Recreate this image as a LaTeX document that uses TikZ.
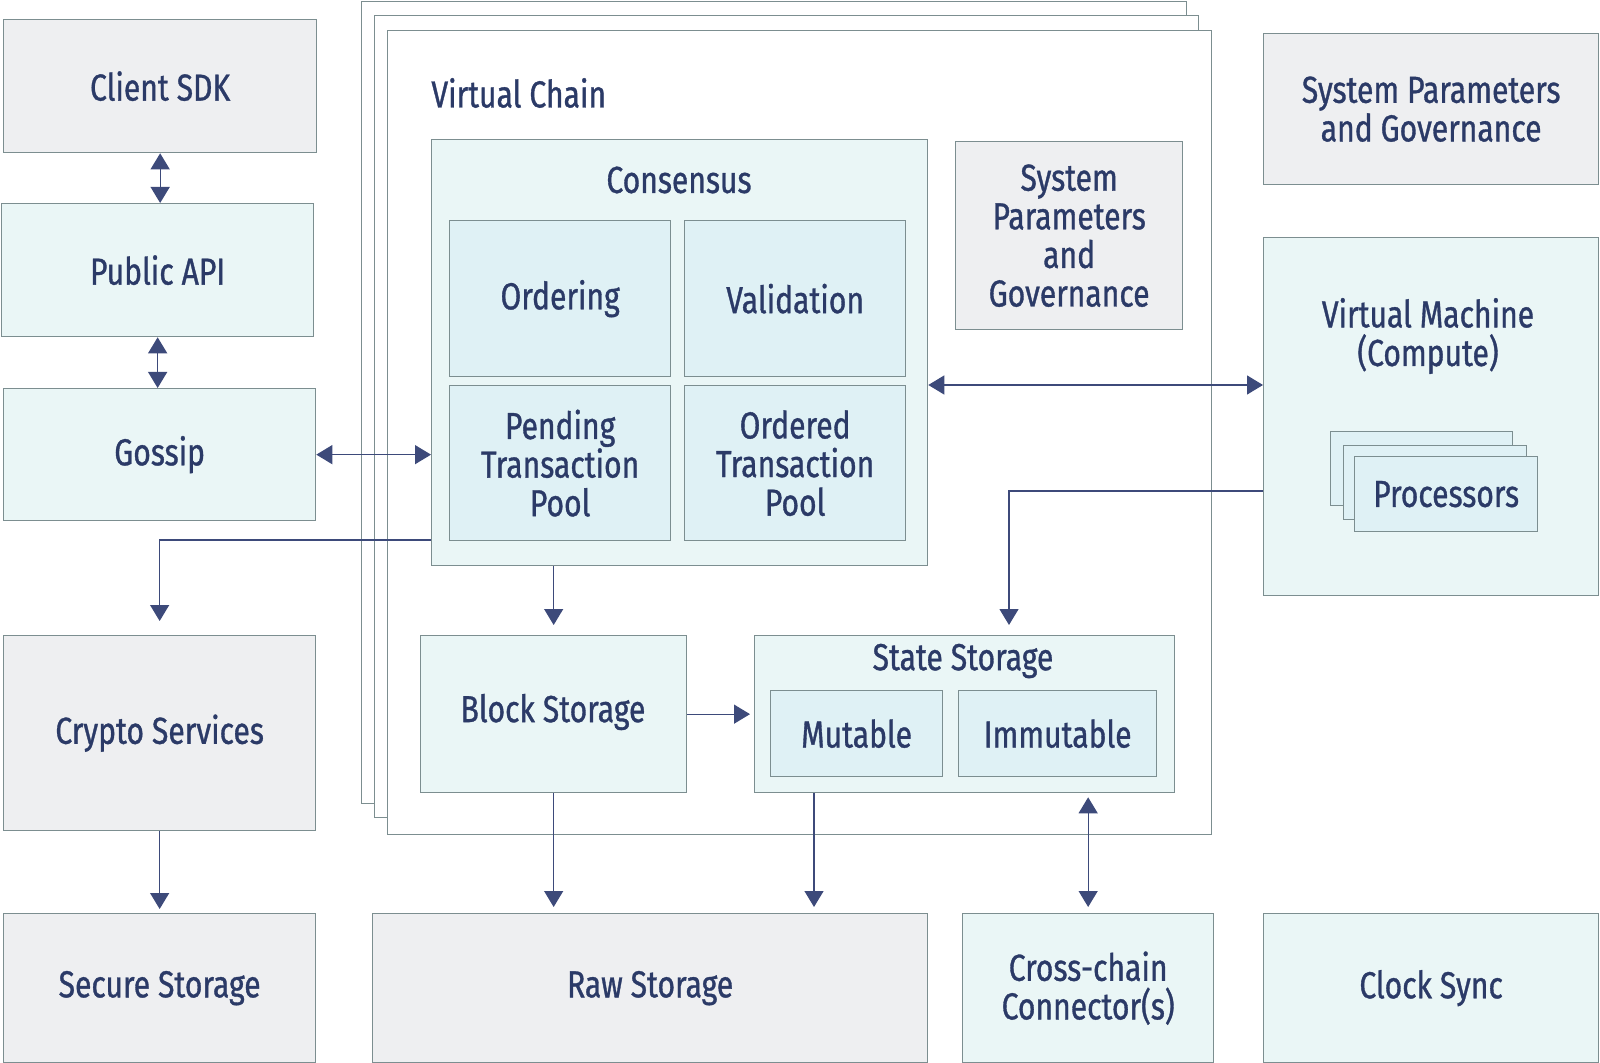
\documentclass[tikz,border=0pt]{standalone}
\usepackage{fontspec}
\setmainfont[FakeStretch=0.80,FakeBold=0.9]{Fira Sans}
\usetikzlibrary{arrows.meta}
\definecolor{txt}{HTML}{2B3A67}
\definecolor{edge}{HTML}{7C8E90}
\definecolor{greyfill}{HTML}{EEEFF1}
\definecolor{tealfill}{HTML}{EAF6F6}
\definecolor{innerfill}{HTML}{DFF1F5}
\definecolor{arr}{HTML}{3D4A7A}
\newcommand{\boxat}[7]{\node[#1, minimum width={(#4-#2)*0.5pt}, minimum height={(#5-#3)*0.5pt}, anchor=north west] (#6) at (#2,#3) {#7};}
\begin{document}
\begin{tikzpicture}[x=0.5pt,y=-0.5pt,
  every node/.style={text=txt, font=\fontsize{18.8}{19.3}\selectfont, align=center, inner sep=0pt},
  base/.style={draw=edge, line width=0.65pt},
  grey/.style={base, fill=greyfill},
  teal/.style={base, fill=tealfill},
  inner/.style={base, fill=innerfill},
  frame/.style={base, fill=white},
  con/.style={draw=arr, line width=0.65pt},
  tip/.style={-{Triangle[width=9.5pt,length=8pt]}},
  tips/.style={{Triangle[width=9.5pt,length=8pt]}-{Triangle[width=9.5pt,length=8pt]}}]
\useasboundingbox (0,0) rectangle (1600,1063);
% left column
\boxat{grey}{3}{19}{316}{152}{sdk}{Client SDK}
\boxat{teal}{1}{203}{313}{336}{api}{Public API}
\boxat{teal}{3}{388}{315}{520}{gossip}{Gossip}
\boxat{grey}{3}{635}{315}{830}{crypto}{Crypto Services}
\boxat{grey}{3}{913}{315}{1062}{secure}{Secure Storage}
% virtual chain frames
\boxat{frame}{361}{1}{1186}{803}{f3}{}
\boxat{frame}{374}{15}{1198}{817}{f2}{}
\boxat{frame}{387}{30}{1211}{834}{f1}{}
\node[anchor=west] (vclabel) at (431,93) {Virtual Chain};
% consensus
\boxat{teal}{431}{139}{927}{565}{consensus}{}
\node (conslabel) at (679,180) {Consensus};
\boxat{inner}{449}{220}{670}{376}{ordering}{Ordering}
\boxat{inner}{684}{220}{905}{376}{validation}{Validation}
\boxat{inner}{449}{385}{670}{540}{pending}{Pending\\Transaction\\Pool}
\boxat{inner}{684}{385}{905}{540}{ordered}{Ordered\\Transaction\\Pool}
\boxat{grey}{955}{141}{1182}{329}{sysin}{System\\Parameters\\and\\Governance}
% storage
\boxat{teal}{420}{635}{686}{792}{block}{}
\node (blocklabel) at (553,712) {Block Storage};
\boxat{teal}{754}{635}{1174}{792}{state}{}
\node (statelabel) at (963,661) {State Storage};
\boxat{inner}{770}{690}{942}{776}{mutable}{Mutable}
\boxat{inner}{958}{690}{1156}{776}{immutable}{Immutable}
% right column
\boxat{grey}{1263}{33}{1598}{184}{sysout}{System Parameters\\and Governance}
\boxat{teal}{1263}{237}{1598}{595}{vm}{}
\node (vmlabel) at (1428,336) {Virtual Machine\\(Compute)};
\boxat{inner}{1330}{431}{1512}{505}{p3}{}
\boxat{inner}{1343}{445}{1526}{519}{p2}{}
\boxat{inner}{1354}{456}{1537}{531}{p1}{Processors}
% bottom row
\boxat{grey}{372}{913}{927}{1062}{raw}{Raw Storage}
\boxat{teal}{962}{913}{1213}{1062}{cross}{Cross-chain\\Connector(s)}
\boxat{teal}{1263}{913}{1598}{1062}{clock}{Clock Sync}
% helper coordinates
\coordinate (yvm) at (0,385);
\coordinate (ycr) at (0,540);
\coordinate (yst) at (0,491);
\coordinate (xst) at (1009,0);
\coordinate (xraw) at (814,0);
% connectors
\draw[con,tips] (sdk.south) -- (api.north -| sdk.south);
\draw[con,tips] (api.south) -- (gossip.north -| api.south);
\draw[con,tips] (gossip.east) -- (gossip.east -| consensus.west);
\draw[con,tips] (consensus.east |- yvm) -- (vm.west |- yvm);
\draw[con,tip] (consensus.west |- ycr) -- (crypto.north |- ycr) -- ([yshift=7pt]crypto.north);
\draw[con,tip] (crypto.south) -- ([yshift=2pt]secure.north);
\draw[con,tip] (consensus.south -| block.north) -- ([yshift=5pt]block.north);
\draw[con,tip] (vm.west |- yst) -- (xst |- yst) -- ([yshift=5pt]state.north -| xst);
\draw[con,tip] (block.east |- state.west) -- ([xshift=-2pt]state.west);
\draw[con,tip] (block.south) -- ([yshift=3pt]raw.north -| block.south);
\draw[con,tip] (state.south -| xraw) -- ([yshift=3pt]raw.north -| xraw);
\draw[con,tips] ([yshift=-2pt]state.south -| cross.north) -- ([yshift=3pt]cross.north);
\end{tikzpicture}
\end{document}
